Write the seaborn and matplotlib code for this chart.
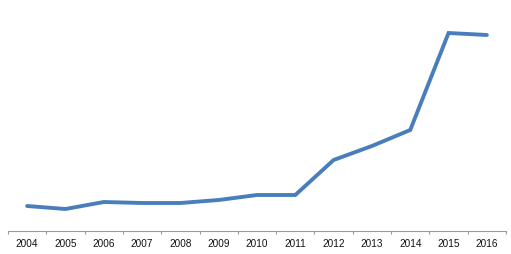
import matplotlib
matplotlib.use("Agg")
import matplotlib.pyplot as plt
import seaborn as sns
import pandas as pd
import numpy as np

years = ["2004", "2005", "2006", "2007", "2008", "2009", "2010",
         "2011", "2012", "2013", "2014", "2015", "2016"]
values = [25, 22, 29, 28, 28, 31, 36, 36, 71, 85, 101, 198, 196]

sns.set_theme(style="white")
plt.rcParams['font.family'] = ['Liberation Sans', 'DejaVu Sans']

df = pd.DataFrame({"year": years, "value": values})
df["pos"] = np.arange(len(years))

fig = plt.figure(figsize=(5.11, 2.54), dpi=100)
ax = fig.add_axes([8/511, 23/254, 498/511, 220/254])
sns.lineplot(data=df, x="pos", y="value", ax=ax, color="#4A7EBB",
             linewidth=2.8, solid_joinstyle="miter")
ax.set_xlim(-0.5, len(years) - 0.5)
ax.set_ylim(0, 220)
ax.set_xlabel("")
ax.set_ylabel("")
ax.set_yticks([])
ax.set_xticks(df["pos"])
ax.set_xticklabels(years, fontsize=7.2, color="#111111")
ax.set_xticks(np.arange(-0.5, len(years)), minor=True)
ax.tick_params(axis="x", which="major", length=0, pad=6)
ax.tick_params(axis="x", which="minor", length=2.5, width=0.8, color="#9a9a9a",
               direction="out", bottom=True)
for s in ["top", "right", "left"]:
    ax.spines[s].set_visible(False)
ax.spines["bottom"].set_color("#9a9a9a")
ax.spines["bottom"].set_linewidth(0.8)
fig.savefig("out.png", dpi=100)
